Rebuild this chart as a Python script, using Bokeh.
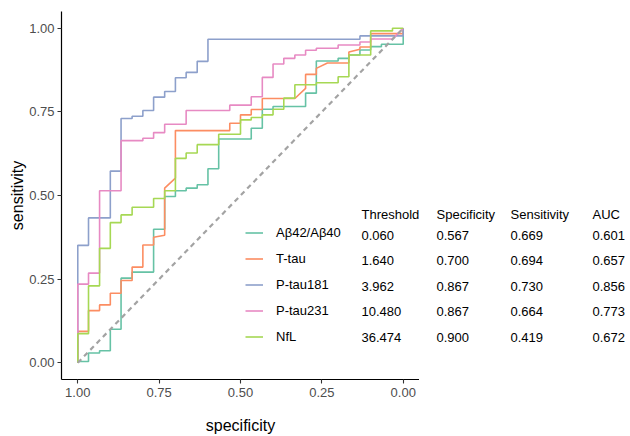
from bokeh.plotting import figure
from bokeh.layouts import row
from bokeh.models import Range1d, FixedTicker, PrintfTickFormatter, Legend, LegendItem, Label
from bokeh.embed import file_html
from bokeh.resources import INLINE

FONT = "Liberation Sans"

markers = ["Aβ42/Aβ40", "T-tau", "P-tau181", "P-tau231", "NfL"]
colors = ["#66C2A5", "#FC8D62", "#8DA0CB", "#E78AC3", "#A6D854"]

# ROC vertices as (specificity, sensitivity)
ab_roc = [(1, 0), (1, .004), (.967, .004), (.967, .029), (.933, .029), (.933, .036), (.9, .036), (.9, .1),
          (.867, .1), (.867, .253), (.833, .253), (.833, .271), (.767, .271), (.767, .399), (.733, .399),
          (.733, .497), (.7, .497), (.7, .514), (.667, .514), (.667, .522), (.633, .522), (.633, .532),
          (.6, .532), (.6, .58), (.567, .58), (.567, .669), (.467, .669), (.467, .701), (.433, .701),
          (.433, .758), (.4, .758), (.4, .766), (.3, .766), (.3, .806), (.267, .806), (.267, .902),
          (.2, .902), (.2, .91), (.167, .91), (.167, .92), (.133, .92), (.133, .935), (.1, .935),
          (.1, .945), (.067, .945), (.067, .952), (0, .952), (0, 1)]
ttau_roc = [(1, 0), (1, .094), (.967, .094), (.967, .156), (.933, .156), (.933, .173), (.9, .173), (.9, .208),
            (.867, .208), (.867, .246), (.833, .246), (.833, .286), (.8, .286), (.8, .352), (.767, .352),
            (.767, .375), (.733, .381), (.733, .522), (.7, .552), (.7, .694), (.533, .694), (.533, .716),
            (.5, .716), (.5, .741), (.467, .741), (.467, .757), (.433, .757), (.433, .790), (.333, .790),
            (.3, .820), (.3, .862), (.267, .862), (.267, .880), (.233, .896), (.167, .896), (.167, .929),
            (.133, .937), (.133, .944), (.1, .944), (.1, .984), (0, .984), (0, 1)]
ptau181_roc = [(1, 0), (1, .351), (.967, .351), (.967, .433), (.9, .433), (.9, .573), (.867, .573), (.867, .730),
               (.833, .730), (.833, .737), (.8, .737), (.8, .754), (.767, .754), (.767, .794), (.733, .794),
               (.733, .811), (.7, .811), (.7, .852), (.667, .852), (.667, .868), (.633, .868), (.633, .901),
               (.6, .901), (.6, .967), (.133, .967), (.133, .977), (0, .977), (0, 1)]
ptau231_roc = [(1, 0), (1, .235), (.967, .235), (.967, .268), (.933, .268), (.933, .514), (.867, .514),
               (.867, .664), (.8, .664), (.8, .671), (.767, .671), (.767, .688), (.733, .688), (.733, .713),
               (.667, .713), (.667, .754), (.533, .754), (.533, .770), (.467, .770), (.467, .795), (.433, .795),
               (.433, .853), (.4, .853), (.4, .893), (.367, .893), (.367, .910), (.333, .910), (.333, .920),
               (.3, .920), (.3, .934), (.267, .934), (.267, .940), (.2, .940), (.2, .950), (.133, .950),
               (.133, .959), (.1, .959), (.1, .968), (.033, .968), (0, 1)]
nfl_roc = [(1, 0), (1, .087), (.967, .087), (.967, .230), (.933, .230), (.933, .342), (.9, .342), (.9, .419),
           (.867, .419), (.867, .442), (.833, .442), (.833, .465), (.767, .465), (.767, .491), (.733, .491),
           (.733, .514), (.7, .514), (.7, .611), (.667, .611), (.667, .627), (.633, .627), (.633, .652),
           (.567, .652), (.567, .683), (.5, .683), (.5, .726), (.467, .726), (.467, .733), (.433, .733),
           (.433, .741), (.4, .741), (.4, .758), (.367, .758), (.367, .791), (.333, .791), (.333, .831),
           (.267, .831), (.267, .837), (.2, .837), (.2, .855), (.167, .855), (.167, .920), (.1, .920),
           (.1, .992), (.033, .992), (.033, 1.0), (0, 1.0)]
rocs = [ab_roc, ttau_roc, ptau181_roc, ptau231_roc, nfl_roc]

chance_spec = [1, 0]
chance_sens = [0, 1]

ticks = [0, 0.25, 0.5, 0.75, 1.0]

table_headers = ["Threshold", "Specificity", "Sensitivity", "AUC"]
thresholds = ["0.060", "1.640", "3.962", "10.480", "36.474"]
specificities = ["0.567", "0.700", "0.867", "0.867", "0.900"]
sensitivities = ["0.669", "0.694", "0.730", "0.664", "0.419"]
aucs = ["0.601", "0.657", "0.856", "0.773", "0.672"]

H = 436
TOP = 11
BOTTOM = 57
FRAME_H = H - TOP - BOTTOM
LEFT = 61

p = figure(width=LEFT + 358, height=H, output_backend="svg", toolbar_location=None,
           x_range=Range1d(1.05, -0.05), y_range=Range1d(-0.05, 1.05),
           min_border_left=LEFT, min_border_right=0, min_border_top=TOP, min_border_bottom=BOTTOM,
           x_axis_label="specificity", y_axis_label="sensitivity")
p.frame_width = 358
p.frame_height = FRAME_H
p.outline_line_color = None
p.xgrid.visible = False
p.ygrid.visible = False
p.background_fill_color = "white"

for ax in (p.xaxis[0], p.yaxis[0]):
    ax.ticker = FixedTicker(ticks=ticks)
    ax.formatter = PrintfTickFormatter(format="%.2f")
    ax.axis_line_color = "black"
    ax.axis_line_width = 1.2
    ax.major_tick_line_color = "#333333"
    ax.major_tick_line_width = 1.1
    ax.major_tick_out = 4
    ax.major_tick_in = 0
    ax.minor_tick_line_color = None
    ax.major_label_text_font = FONT
    ax.major_label_text_font_size = "13px"
    ax.major_label_text_color = "#4D4D4D"
    ax.axis_label_text_font = FONT
    ax.axis_label_text_font_size = "16px"
    ax.axis_label_text_font_style = "normal"
    ax.axis_label_text_color = "black"
p.xaxis[0].major_label_standoff = 4
p.yaxis[0].major_label_standoff = 3
p.xaxis[0].axis_label_standoff = 17
p.yaxis[0].axis_label_standoff = 0

renderers = []
for roc, col in zip(rocs, colors):
    xs = [s for s, _ in roc]
    ys = [t for _, t in roc]
    r = p.line(xs, ys, line_color=col, line_width=1.6)
    renderers.append(r)

p.line(chance_spec, chance_sens, line_color="#A3A3A3", line_width=2.2, line_dash="5 4")

legend = Legend(items=[LegendItem(label=m, renderers=[r]) for m, r in zip(markers, renderers)],
                location=(184, 32), orientation="vertical",
                glyph_width=18, glyph_height=21, label_height=21, spacing=5, label_standoff=13,
                padding=0, margin=0, border_line_color=None, background_fill_alpha=0,
                label_text_font=FONT, label_text_font_size="13px", label_text_color="black")
p.add_layout(legend)

# summary table: first column inside main panel, remaining columns in a side panel
t = figure(width=208, height=H, output_backend="svg", toolbar_location=None,
           x_axis_type=None, y_axis_type=None,
           x_range=Range1d(0, 1), y_range=Range1d(0, 1),
           min_border_left=0, min_border_right=0, min_border_top=TOP, min_border_bottom=BOTTOM)
t.frame_height = FRAME_H
t.outline_line_color = None
t.xgrid.visible = False
t.ygrid.visible = False

header_y = 165.2
row_y0 = 144
row_step = 25.4
main_w = 358
col_x = [300, 375, 449, 531]
columns = [thresholds, specificities, sensitivities, aucs]


def add_text(fig, x, y, s):
    fig.add_layout(Label(x=x, y=y, x_units="screen", y_units="screen", text=s,
                         text_font=FONT, text_font_size="13px", text_color="black",
                         text_baseline="middle", text_align="left"))


for cx, h, colvals in zip(col_x, table_headers, columns):
    fig, x = (p, cx) if cx < main_w else (t, cx - main_w)
    add_text(fig, x, header_y, h)
    for i, v in enumerate(colvals):
        add_text(fig, x, row_y0 - i * row_step, v)

layout = row(p, t, spacing=0)
open("out.html", "w").write(file_html(layout, INLINE))
